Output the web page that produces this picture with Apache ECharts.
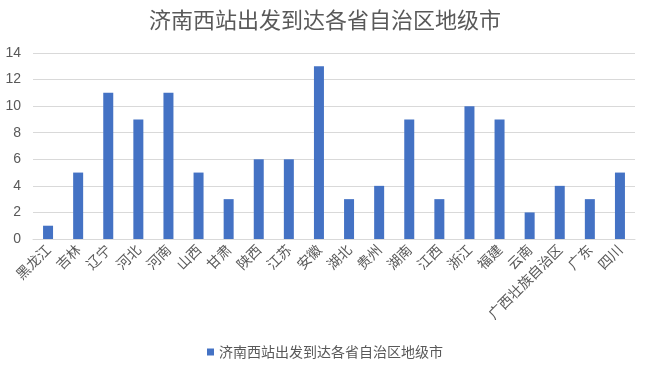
<!DOCTYPE html>
<html><head><meta charset="utf-8">
<script src="https://cdn.jsdelivr.net/npm/echarts@6/dist/echarts.min.js"></script>
<style>html,body{margin:0;padding:0;background:#fff}#c{width:650px;height:369px}</style>
</head><body><div id="c"></div>
<script>
const titleText = '济南西站出发到达各省自治区地级市';
const categories = ['黑龙江','吉林','辽宁','河北','河南','山西','甘肃','陕西','江苏','安徽','湖北','贵州','湖南','江西','浙江','福建','云南','广西壮族自治区','广东','四川'];
const values = [1,5,11,9,11,5,3,6,6,13,3,4,9,3,10,9,2,4,3,5];
const yTicks = [0,2,4,6,8,10,12,14];
const seriesName = '济南西站出发到达各省自治区地级市';
const chart = echarts.init(document.getElementById('c'));
chart.setOption({
  animation:false,
  title:{text:titleText,left:'center',top:4,textStyle:{fontSize:22,fontWeight:'normal',color:'#595959',fontFamily:'Noto Sans CJK SC'}},
  grid:{left:33,right:15,top:53,bottom:130},
  legend:{bottom:5,left:'center',itemWidth:7,itemHeight:7,itemGap:6,icon:'rect',data:[seriesName],textStyle:{color:'#595959',fontSize:14,fontFamily:'Noto Sans CJK SC'}},
  xAxis:{type:'category',data:categories,axisTick:{show:false},axisLine:{lineStyle:{color:'#d9d9d9'}},
    axisLabel:{rotate:45,interval:0,color:'#595959',fontSize:14,fontFamily:'Noto Sans CJK SC',margin:8}},
  yAxis:{type:'value',min:yTicks[0],max:yTicks[yTicks.length-1],interval:2,axisLine:{show:false},axisTick:{show:false},
    splitLine:{lineStyle:{color:'#d9d9d9'}},axisLabel:{color:'#595959',fontSize:14,margin:12}},
  series:[{name:seriesName,type:'bar',data:values,barWidth:10,itemStyle:{color:'#4472C4'}}]
});
</script></body></html>
